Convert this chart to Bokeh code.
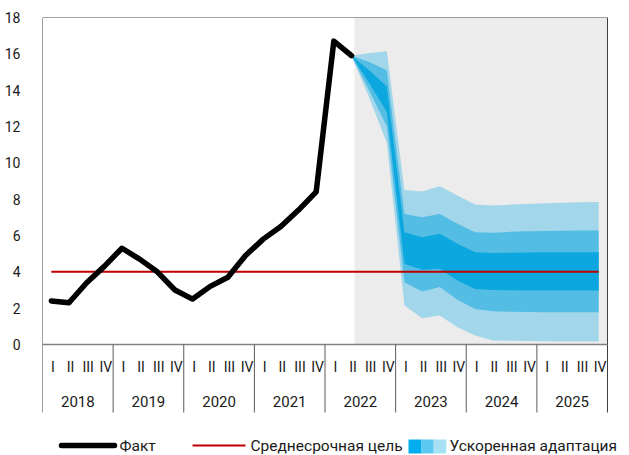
from bokeh.plotting import figure
from bokeh.models import Range1d, FixedTicker
from bokeh.core.properties import value
from bokeh.embed import file_html
from bokeh.resources import INLINE

# ---------------- data ----------------
years = ["2018", "2019", "2020", "2021", "2022", "2023", "2024", "2025"]
quarters = ["I", "II", "III", "IV"]
y_ticks = [0, 2, 4, 6, 8, 10, 12, 14, 16, 18]

# Fact (2018Q1 .. 2022Q2)
fact = [2.4, 2.3, 3.4, 4.3, 5.3, 4.7, 4.0, 3.0, 2.5, 3.2, 3.7, 4.9,
        5.8, 6.5, 7.4, 8.4, 16.7, 15.9]

# Medium-term target
target = 4.0

# Forecast fan, 2022Q2 .. 2025Q4
forecast_start = 17
outer_hi = [15.9, 16.05, 16.14, 8.5, 8.42, 8.71, 8.2, 7.7, 7.65, 7.7, 7.74, 7.78, 7.8, 7.83, 7.85]
mid_hi = [15.9, 15.55, 15.1, 7.19, 7.01, 7.19, 6.64, 6.18, 6.15, 6.2, 6.23, 6.25, 6.26, 6.27, 6.28]
dark_hi = [15.9, 15.1, 14.2, 6.18, 5.91, 6.09, 5.54, 5.08, 5.03, 5.05, 5.07, 5.08, 5.08, 5.08, 5.08]
dark_lo = [15.9, 14.4, 12.8, 4.44, 4.11, 4.17, 3.52, 3.06, 3.0, 2.98, 2.97, 2.97, 2.97, 2.97, 2.97]
mid_lo = [15.9, 14.0, 12.0, 3.43, 2.92, 3.16, 2.46, 1.96, 1.83, 1.8, 1.79, 1.78, 1.78, 1.78, 1.78]
outer_lo = [15.9, 13.6, 11.1, 2.15, 1.45, 1.6, 0.95, 0.5, 0.22, 0.2, 0.19, 0.18, 0.17, 0.17, 0.16]

legend_labels = ["Факт", "Среднесрочная цель", "Ускоренная адаптация"]

# ---------------- styles ----------------
FONT = value("Roboto")
C_LIGHT = "#a2d6ea"
C_MID = "#53bde3"
C_DARK = "#0ba7de"
C_RED = "#c00000"
C_SHADE = "#ececec"
C_FRAME = "#404040"
C_SEP = "#5a5a5a"

nq = len(years) * len(quarters)
x_all = [i + 0.5 for i in range(nq)]
x_fact = x_all[:len(fact)]
x_fc = x_all[forecast_start:forecast_start + len(outer_hi)]

PX_PER_Q = 565 / nq          # frame: 42..607 px for the 32 quarters
PX_PER_Y = 327 / 18          # y = 0 at 344 px, y = 18 at 17 px
Y_TOP = 18
Y_BOTTOM = 18 - (455 - 17) / PX_PER_Y
X_RIGHT = nq + (629 - 607) / PX_PER_Q

def py(page_y):
    return (344 - page_y) / PX_PER_Y

def px(page_x):
    return (page_x - 42) / PX_PER_Q

Y_QLAB = py(366)
Y_YLAB = py(401)
Y_SEP = py(412)
Y_LEG = py(445)

p = figure(width=629, height=455,
           x_range=Range1d(0, X_RIGHT), y_range=Range1d(Y_BOTTOM, Y_TOP),
           output_backend="svg", toolbar_location=None,
           x_axis_type=None,
           min_border_left=42, min_border_right=0,
           min_border_top=17, min_border_bottom=0)
p.outline_line_color = None
p.xgrid.visible = False
p.ygrid.visible = False
p.background_fill_color = "white"

ya = p.yaxis[0]
ya.ticker = FixedTicker(ticks=y_ticks)
ya.axis_line_color = None
ya.major_tick_line_color = None
ya.minor_tick_line_color = None
ya.major_label_standoff = 16
ya.major_label_text_font = "Roboto"
ya.major_label_text_font_size = "14px"
ya.major_label_text_color = "#1a1a1a"

# forecast shading
p.quad(left=x_fact[-1] + 0.17, right=nq, bottom=0, top=Y_TOP,
       fill_color=C_SHADE, line_color=None)

# fan
p.varea(x=x_fc, y1=outer_lo, y2=outer_hi, fill_color=C_LIGHT)
p.varea(x=x_fc, y1=mid_lo, y2=mid_hi, fill_color=C_MID)
p.varea(x=x_fc, y1=dark_lo, y2=dark_hi, fill_color=C_DARK)

# target line
p.line(x=x_all, y=[target] * nq, line_color=C_RED, line_width=2)

# fact line
p.line(x=x_fact, y=fact, line_color="black", line_width=5.5,
       line_cap="round", line_join="round")

# frame
p.segment(x0=[0, 0, nq], y0=[Y_TOP, Y_SEP, Y_SEP],
          x1=[nq, 0, nq], y1=[Y_TOP, Y_TOP, Y_TOP],
          line_color=C_FRAME, line_width=1)
p.segment(x0=[0], y0=[0], x1=[nq], y1=[0], line_color="#808080", line_width=1.5)
bx = [4 * i for i in range(1, len(years))]
p.segment(x0=bx, y0=[0] * len(bx), x1=bx, y1=[Y_SEP] * len(bx),
          line_color=C_SEP, line_width=1)

# category labels
qx = [i * 4 + j + 0.5 for i in range(len(years)) for j in range(len(quarters))]
qt = [q for _ in years for q in quarters]
p.text(x=qx, y=[Y_QLAB] * len(qx), text=qt, text_font=FONT,
       text_font_size=value("14px"), text_align="center",
       text_baseline="middle", text_color="#1a1a1a", x_offset=1.5)
yx = [i * 4 + 2 for i in range(len(years))]
p.text(x=yx, y=[Y_YLAB] * len(yx), text=years, text_font=FONT,
       text_font_size=value("15px"), text_align="center",
       text_baseline="middle", text_color="#1a1a1a")

# legend (drawn in plot coordinates)
p.line(x=[px(61), px(114)], y=[Y_LEG, Y_LEG], line_color="black",
       line_width=5.5, line_cap="round")
p.line(x=[px(192), px(245)], y=[Y_LEG, Y_LEG], line_color=C_RED, line_width=2)
sq_x = [px(414.3), px(426.9), px(439.5)]
p.rect(x=sq_x, y=[py(446)] * 3, width=12.6, height=14,
       width_units="screen", height_units="screen",
       fill_color=["#00aeef", "#5bc8f2", "#a8e0f6"], line_color=None)
p.text(x=[px(119), px(250), px(449)], y=[Y_LEG] * 3, text=legend_labels,
       text_font=FONT, text_font_size=value("15.5px"), text_align="left",
       text_baseline="middle", text_color="#1a1a1a")

open("out.html", "w").write(file_html(p, INLINE))
